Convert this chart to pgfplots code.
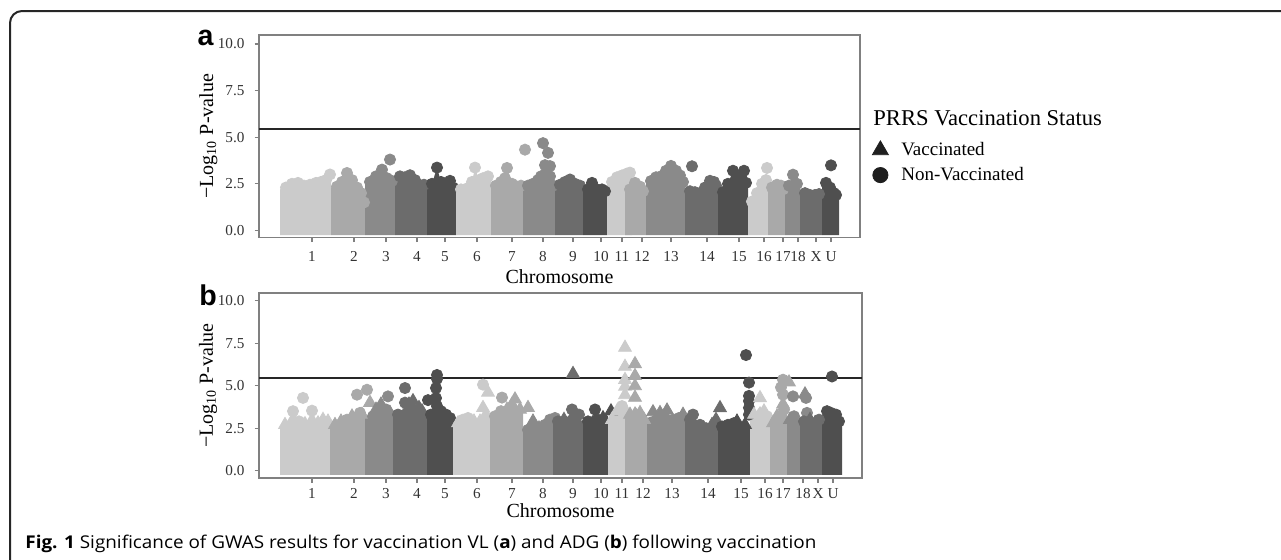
\documentclass[border=0pt]{standalone}
\usepackage{pgfplots}
\pgfplotsset{compat=1.18}
\usepackage{fontspec}
\setmainfont{Liberation Serif}
\newfontfamily\capfont{Open Sans}
\newfontfamily\labfont{Liberation Sans}
\definecolor{cA}{HTML}{CBCBCB}
\definecolor{cB}{HTML}{A9A9A9}
\definecolor{cC}{HTML}{8A8A8A}
\definecolor{cD}{HTML}{6C6C6C}
\definecolor{cE}{HTML}{4F4F4F}
\definecolor{boxc}{HTML}{808080}
% colour, x0, x1, left height, right height, top coordinates
\newcommand{\chrbody}[6]{\addplot[fill=#1, draw=none, forget plot] coordinates {(#2,-0.25) (#2,#4) #6 (#3,#5) (#3,-0.25)};}
\newcommand{\cpts}[2]{\addplot[only marks, mark=*, mark size=2.8pt, color=#1, forget plot] coordinates {#2};}
\newcommand{\tpts}[2]{\addplot[only marks, mark=triangle*, mark size=3.7pt, color=#1, forget plot] coordinates {#2};}
\pgfplotsset{manh/.style={
  scale only axis, xmin=259,
  axis line style={boxc, line width=0.6pt},
  tick align=outside, major tick length=2.25pt,
  tick style={boxc, line width=0.6pt},
  xtick pos=bottom, ytick pos=left,
  ytick={0,2.5,5,7.5,10}, yticklabels={0.0,2.5,5.0,7.5,10.0},
  xticklabels={1,2,3,4,5,6,7,8,9,10,11,12,13,14,15,16,17,18,X,U},
  tick label style={font=\fontsize{7.6}{8}\selectfont, text=black!80},
  yticklabel style={xshift=-1.5pt},
  ylabel={−Log\textsubscript{10} P-value}, xlabel={Chromosome},
  label style={font=\fontsize{9.6}{11}\selectfont},
  every axis y label/.style={at={(axis description cs:-0.0844,0.5)}, rotate=90, anchor=center},
}}
\begin{document}
\begin{tikzpicture}
\useasboundingbox (0,0) rectangle (640.5pt,279.5pt);
\draw[line width=1pt, black!85, rounded corners=6pt] (5pt,-5pt) -- (5pt,274pt) -- (650pt,274pt);
% ---------------- panel a
\begin{axis}[manh, at={(129.5pt,160.75pt)}, anchor=south west,
  width=300.5pt, height=101.25pt, xmax=860, ymin=-0.38, ymax=10.48,
  xtick={312,354,386,417,445,477,512,543,573,601,622,642,671,707,739,764,783,798,816,831},
  xticklabel style={yshift=-1pt},
  every axis x label/.style={at={(axis description cs:0.5,0)}, anchor=base, yshift=-22.75pt},
  legend style={at={(axis description cs:1.02,0.37)}, anchor=west, draw=none, fill=none,
    inner sep=0pt, row sep=0pt, column sep=5pt, font=\fontsize{9.5}{11}\selectfont,
    nodes={inner sep=1.5pt, text height=7.5pt, text depth=2pt}},
  legend cell align=left]
\chrbody{cA}{280}{331}{2.2}{2.9}{(286,2.3)(292,2.5)(298,2.55)(304,2.4)(310,2.45)(316,2.55)(321,2.6)(326,2.7)(330,3.0)}
\cpts{cA}{(286,2.3)(292,2.5)(298,2.55)(304,2.4)(310,2.45)(316,2.55)(321,2.6)(326,2.7)(330,3.0)}
\chrbody{cB}{331}{365}{2.3}{1.4}{(337,2.35)(342,2.6)(347,3.08)(352,2.7)(357,2.3)(361,2.0)(364,1.5)}
\cpts{cB}{(337,2.35)(342,2.6)(347,3.08)(352,2.7)(357,2.3)(361,2.0)(364,1.5)}
\chrbody{cC}{365}{395}{2.5}{2.6}{(370,2.6)(376,2.9)(382,3.26)(387,2.8)(392,2.65)}
\cpts{cC}{(370,2.6)(376,2.9)(382,3.26)(387,2.8)(392,2.65)(390,3.8)}
\chrbody{cD}{395}{427}{2.8}{2.4}{(400,2.9)(405,2.85)(410,2.96)(415,2.7)(419,2.45)(424,2.45)}
\cpts{cD}{(400,2.9)(405,2.85)(410,2.96)(415,2.7)(419,2.45)(424,2.45)}
\chrbody{cE}{427}{456}{2.4}{2.2}{(432,2.5)(437,3.37)(441,2.6)(445,2.3)(450,2.66)(453,2.3)}
\cpts{cE}{(432,2.5)(437,3.37)(441,2.6)(445,2.3)(450,2.66)(453,2.3)}
\chrbody{cA}{456}{491}{2.1}{2.8}{(461,2.2)(467,2.25)(472,2.6)(475,3.37)(479,2.7)(483,2.8)(488,2.9)}
\cpts{cA}{(461,2.2)(467,2.25)(472,2.6)(475,3.37)(479,2.7)(483,2.8)(488,2.9)}
\chrbody{cB}{491}{523}{2.3}{2.3}{(496,2.4)(501,2.6)(505,2.8)(507,3.35)(512,2.5)(517,2.35)(521,2.4)}
\cpts{cB}{(496,2.4)(501,2.6)(505,2.8)(507,3.35)(512,2.5)(517,2.35)(521,2.4)(525,4.33)}
\chrbody{cC}{523}{555}{2.3}{2.3}{(528,2.4)(533,2.5)(538,2.7)(541,2.9)(545,3.0)(550,2.9)(553,2.4)}
\cpts{cC}{(528,2.4)(533,2.5)(538,2.7)(541,2.9)(545,3.0)(550,2.9)(553,2.4)(543,4.68)(548,4.16)(545,3.5)(550,3.45)}
\chrbody{cD}{555}{583}{2.4}{2.3}{(560,2.45)(565,2.6)(570,2.73)(575,2.5)(580,2.4)}
\cpts{cD}{(560,2.45)(565,2.6)(570,2.73)(575,2.5)(580,2.4)}
\chrbody{cE}{583}{607}{2.1}{2.0}{(588,2.2)(592,2.55)(597,2.2)(602,2.2)(605,2.1)}
\cpts{cE}{(588,2.2)(592,2.55)(597,2.2)(602,2.2)(605,2.1)}
\chrbody{cA}{607}{632}{2.5}{3.0}{(612,2.6)(617,2.85)(622,2.95)(627,3.05)(630,3.1)}
\cpts{cA}{(612,2.6)(617,2.85)(622,2.95)(627,3.05)(630,3.1)}
\chrbody{cB}{625}{646}{2.1}{2.0}{(630,2.2)(635,2.55)(640,2.35)(643,2.1)}
\cpts{cB}{(630,2.2)(635,2.55)(640,2.35)(643,2.1)}
\chrbody{cC}{646}{685}{2.55}{2.5}{(651,2.65)(656,2.85)(661,2.9)(666,3.2)(671,3.46)(676,3.2)(680,2.95)(683,2.6)}
\cpts{cC}{(651,2.65)(656,2.85)(661,2.9)(666,3.2)(671,3.46)(676,3.2)(680,2.95)(683,2.6)}
\chrbody{cD}{685}{718}{2.0}{2.3}{(690,2.1)(695,2.05)(700,2.0)(705,2.3)(710,2.66)(714,2.6)(716,2.4)}
\cpts{cD}{(690,2.1)(695,2.05)(700,2.0)(705,2.3)(710,2.66)(714,2.6)(716,2.4)(692,3.44)}
\chrbody{cE}{718}{748}{1.95}{2.45}{(723,2.05)(728,2.5)(733,3.2)(736,2.7)(741,2.9)(744,3.2)(746,2.55)}
\cpts{cE}{(723,2.05)(728,2.5)(733,3.2)(736,2.7)(741,2.9)(744,3.2)(746,2.55)}
\chrbody{cA}{748}{768}{1.45}{2.6}{(752,1.55)(757,2.0)(762,2.5)(766,2.7)}
\cpts{cA}{(752,1.55)(757,2.0)(762,2.5)(766,2.7)(767,3.35)}
\chrbody{cB}{768}{785}{2.2}{2.1}{(772,2.3)(777,2.45)(781,2.4)(783,2.2)}
\cpts{cB}{(772,2.3)(777,2.45)(781,2.4)(783,2.2)}
\chrbody{cC}{785}{800}{2.3}{2.4}{(789,2.4)(793,2.99)(797,2.5)}
\cpts{cC}{(789,2.4)(793,2.99)(797,2.5)}
\chrbody{cD}{800}{822}{1.9}{1.85}{(805,2.0)(810,1.9)(815,1.9)(819,1.95)}
\cpts{cD}{(805,2.0)(810,1.9)(815,1.9)(819,1.95)}
\chrbody{cE}{822}{839}{2.45}{1.8}{(826,2.55)(830,2.3)(834,2.0)(836,1.9)}
\cpts{cE}{(826,2.55)(830,2.3)(834,2.0)(836,1.9)(831,3.49)}
\addplot[black!85, line width=0.85pt, forget plot] coordinates {(259,5.45)(860,5.45)};
\addlegendimage{only marks, mark=triangle*, mark size=4.6pt, black!88}
\addlegendentry{Vaccinated}
\addlegendimage{only marks, mark=*, mark size=3.8pt, black!88}
\addlegendentry{Non-Vaccinated}
\end{axis}
% ---------------- panel b
\begin{axis}[manh, at={(129.5pt,40.5pt)}, anchor=south west,
  width=301.5pt, height=92.5pt, xmax=862, ymin=-0.43, ymax=10.45,
  xtick={312,354,386,417,445,477,512,543,573,601,622,643,672,708,741,765,783,803,818,833},
  xticklabel style={yshift=0.6pt},
  every axis x label/.style={at={(axis description cs:0.5,0)}, anchor=base, yshift=-19.8pt}]
\chrbody{cA}{280}{330}{2.6}{2.8}{(285,2.7)(293,3.5)(299,2.9)(305,2.7)(312,3.5)(318,2.8)(323,3.0)(328,2.9)}
\cpts{cA}{(293,3.5)(303,4.28)(312,3.53)(299,2.9)}
\tpts{cA}{(285,2.7)(305,2.75)(318,2.8)(323,3.0)(328,2.9)}
\chrbody{cB}{330}{365}{2.6}{3.2}{(335,2.7)(341,2.9)(347,3.0)(352,3.2)(357,3.6)(362,3.3)}
\cpts{cB}{(357,4.47)(367,4.76)(360,3.4)(347,3.0)}
\tpts{cB}{(335,2.7)(341,2.9)(352,3.2)(370,4.0)(362,3.3)}
\chrbody{cC}{365}{393}{3.1}{3.3}{(370,3.2)(376,3.6)(381,3.9)(386,3.6)(390,3.4)}
\cpts{cC}{(373,3.2)(388,4.37)(386,3.6)}
\tpts{cC}{(376,3.6)(381,3.9)(390,3.4)}
\chrbody{cD}{393}{427}{3.2}{3.3}{(398,3.3)(404,3.7)(409,3.9)(414,4.0)(419,3.7)(424,3.4)}
\cpts{cD}{(405,4.86)(405,4.0)(398,3.3)}
\tpts{cD}{(413,4.1)(419,3.7)(422,3.5)(409,3.9)}
\chrbody{cE}{427}{453}{3.2}{3.0}{(431,3.3)(436,3.7)(441,3.5)(446,3.3)(450,3.1)}
\cpts{cE}{(437,5.63)(437,5.4)(436,4.86)(436,4.27)(428,4.15)(437,3.8)(441,3.5)(446,3.3)(450,3.1)(431,3.3)}
\chrbody{cA}{453}{490}{2.7}{3.2}{(458,2.8)(463,3.0)(468,3.1)(474,2.9)(480,2.9)(486,3.3)}
\cpts{cA}{(483,5.06)(468,3.1)(463,3.0)}
\tpts{cA}{(488,4.6)(483,3.7)(486,3.3)(458,2.8)(474,2.9)(480,2.9)}
\chrbody{cB}{490}{523}{3.1}{3.5}{(495,3.2)(501,3.5)(507,3.6)(512,3.9)(516,3.8)(520,3.6)}
\cpts{cB}{(502,4.3)(495,3.2)(501,3.5)}
\tpts{cB}{(515,4.2)(528,3.7)(507,3.6)(512,3.9)(520,3.6)}
\chrbody{cC}{523}{558}{2.3}{3.0}{(528,2.4)(533,2.9)(539,2.5)(545,2.7)(550,3.0)(555,3.1)}
\cpts{cC}{(550,3.0)(555,3.1)(545,2.7)(528,2.4)}
\tpts{cC}{(533,2.9)(539,2.5)}
\chrbody{cD}{553}{583}{2.8}{2.9}{(558,2.9)(564,3.0)(570,3.3)(575,3.4)(580,3.0)}
\tpts{cD}{(573,5.7)(564,3.0)(575,3.4)}
\cpts{cD}{(572,3.6)(579,3.3)(558,2.9)}
\chrbody{cE}{583}{608}{2.8}{3.2}{(588,2.9)(593,3.3)(598,3.0)(603,3.1)(606,3.3)}
\cpts{cE}{(595,3.6)(588,2.9)(598,3.0)}
\tpts{cE}{(611,3.5)(603,3.1)}
\chrbody{cA}{608}{630}{2.9}{3.3}{(612,3.0)(617,3.5)(622,3.8)(627,3.4)}
\tpts{cA}{(625,7.24)(625,6.12)(625,5.35)(625,4.95)(625,4.45)(617,3.5)(627,3.4)(612,3.0)}
\cpts{cA}{(622,3.8)}
\chrbody{cB}{625}{647}{3.2}{2.9}{(630,3.3)(635,3.8)(640,3.4)(644,3.0)}
\tpts{cB}{(635,6.28)(635,5.58)(635,4.98)(635,4.3)(630,3.3)(640,3.4)(644,3.0)}
\chrbody{cC}{647}{685}{3.1}{3.1}{(652,3.2)(657,3.4)(662,3.2)(667,3.5)(673,3.0)(679,3.1)(683,3.2)}
\tpts{cC}{(653,3.45)(660,3.4)(667,3.55)(683,3.3)}
\cpts{cC}{(673,3.0)(679,3.1)}
\chrbody{cD}{685}{718}{2.9}{2.9}{(690,3.0)(694,3.2)(700,2.7)(706,2.5)(712,2.7)(716,3.0)}
\cpts{cD}{(693,3.3)(700,2.7)(706,2.5)(690,3.0)}
\tpts{cD}{(720,3.69)(712,2.7)(716,3.0)}
\chrbody{cE}{718}{750}{2.5}{2.5}{(722,2.6)(728,2.7)(734,2.8)(740,2.7)(745,2.6)}
\cpts{cE}{(746,6.8)(749,5.18)(749,4.4)(749,4.1)(749,3.7)(749,3.3)(722,2.6)(728,2.7)(734,2.8)}
\tpts{cE}{(737,2.9)(745,2.7)}
\chrbody{cA}{750}{770}{3.2}{3.1}{(754,3.3)(760,3.8)(764,3.5)(767,3.2)}
\tpts{cA}{(760,4.28)(754,3.3)(764,3.5)}
\cpts{cA}{(767,3.2)}
\chrbody{cB}{770}{787}{2.7}{3.5}{(773,2.8)(777,3.2)(781,3.8)(784,3.6)}
\tpts{cB}{(789,5.2)(783,3.9)(777,3.2)(773,2.8)}
\cpts{cB}{(783,5.35)(781,4.9)(783,4.47)(784,3.6)}
\chrbody{cC}{787}{802}{2.9}{2.9}{(790,3.0)(794,3.2)(799,3.0)}
\cpts{cC}{(793,4.37)(806,4.28)(807,3.4)(794,3.2)}
\tpts{cC}{(805,4.5)(790,3.0)}
\chrbody{cD}{800}{822}{2.8}{2.9}{(804,2.9)(810,3.0)(815,2.8)(819,3.0)}
\tpts{cD}{(810,3.0)(815,2.8)}
\cpts{cD}{(819,3.0)(804,2.9)}
\chrbody{cE}{822}{842}{3.2}{2.8}{(826,3.3)(831,3.4)(836,3.3)(839,2.9)}
\cpts{cE}{(832,5.54)(827,3.5)(831,3.4)(836,3.3)(839,2.9)}
\addplot[black!85, line width=0.85pt, forget plot] coordinates {(259,5.47)(862,5.47)};
\end{axis}
% ---------------- texts
\node[anchor=base, inner sep=0pt] at (102.75pt,257pt) {\labfont\bfseries\fontsize{14.3}{16}\selectfont a};
\node[anchor=base, inner sep=0pt] at (104pt,127pt) {\labfont\bfseries\fontsize{14.3}{16}\selectfont b};
\node[anchor=base west, inner sep=0pt] at (436.5pt,217pt) {\fontsize{11.3}{13}\selectfont PRRS Vaccination Status};
\node[anchor=base west, inner sep=0pt] at (12.5pt,5.5pt) {\resizebox{395.5pt}{\height}{\capfont\fontsize{8.8}{11}\selectfont\textbf{Fig. 1} Significance of GWAS results for vaccination VL (\textbf{a}) and ADG (\textbf{b}) following vaccination}};
\end{tikzpicture}
\end{document}
